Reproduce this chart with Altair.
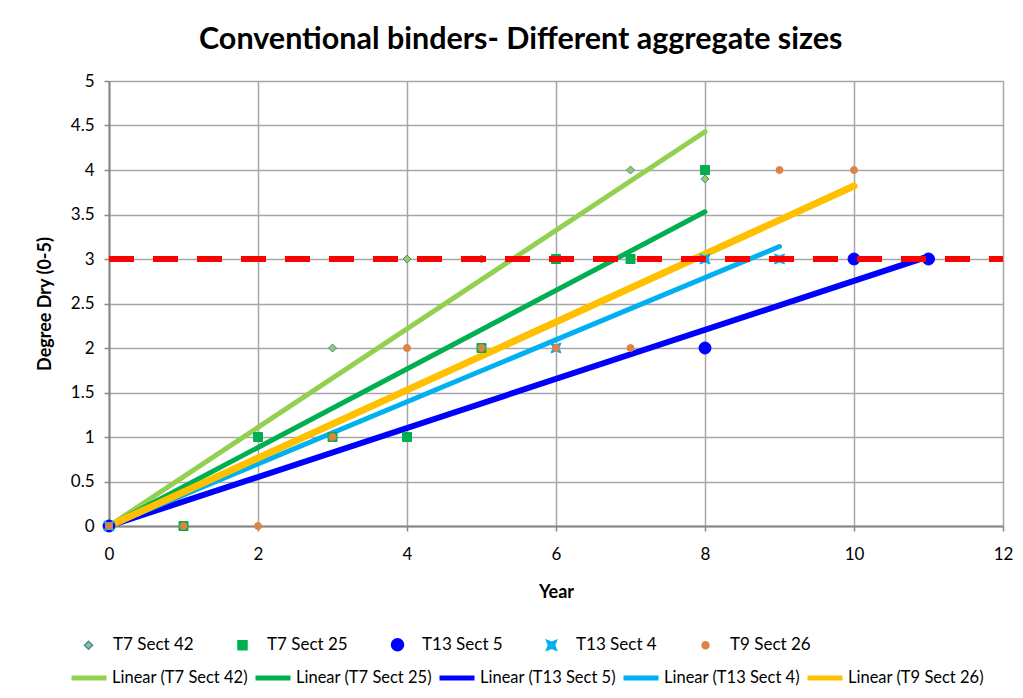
import altair as alt
import pandas as pd

# ---------------- data ----------------
series = ["T7 Sect 42", "T7 Sect 25", "T13 Sect 5", "T13 Sect 4", "T9 Sect 26"]

t7_42_year = [0, 3, 4, 5, 7, 8]
t7_42_val = [0, 2, 3, 3, 4, 3.9]
t7_25_year = [0, 1, 2, 3, 4, 5, 6, 7, 8]
t7_25_val = [0, 0, 1, 1, 1, 2, 3, 3, 4]
t13_5_year = [0, 8, 10, 11]
t13_5_val = [0, 2, 3, 3]
t13_4_year = [0, 6, 8, 9]
t13_4_val = [0, 2, 3, 3]
t9_26_year = [0, 1, 2, 3, 4, 5, 6, 7, 9, 10]
t9_26_val = [0, 0, 0, 1, 2, 2, 2, 2, 4, 4]

trend_names = ["Linear (T7 Sect 42)", "Linear (T7 Sect 25)", "Linear (T13 Sect 5)",
               "Linear (T13 Sect 4)", "Linear (T9 Sect 26)"]
trend_start_year = [0, 0, 0, 0, 0]
trend_start_val = [0, 0, 0, 0, 0]
trend_end_year = [8, 8, 11, 9, 10]
trend_end_val = [4.43, 3.53, 3.03, 3.14, 3.82]

threshold_val = [3]
threshold_from = [0]
threshold_to = [12]

x_ticks = [0, 2, 4, 6, 8, 10, 12]
y_ticks = [0, 0.5, 1, 1.5, 2, 2.5, 3, 3.5, 4, 4.5, 5]

# ---------------- styles ----------------
marker_fill = ["#92d050", "#00b050", "#0000ff", "#00b0f0", "#dd8445"]
marker_stroke = ["#4f81bd", "#00b050", "#0000ff", "#00b0f0", "#dd8445"]
marker_shape = ["diamond", "square", "circle",
                "M-1,-1L0,-0.6L1,-1L0.6,0L1,1L0,0.6L-1,1L-0.6,0Z", "circle"]
marker_size = [64, 81, 144, 100, 49]
trend_color = ["#92d050", "#00b050", "#0000ff", "#00b0f0", "#ffc000"]
trend_width = [5, 5, 6, 5, 7]
FONT = "Lato"

# ---------------- tables ----------------
rows = []
for name, xs, ys in zip(series,
                        [t7_42_year, t7_25_year, t13_5_year, t13_4_year, t9_26_year],
                        [t7_42_val, t7_25_val, t13_5_val, t13_4_val, t9_26_val]):
    for xv, yv in zip(xs, ys):
        rows.append({"series": name, "year": xv, "value": yv})
pts = pd.DataFrame(rows)

xscale = alt.Scale(domain=[0, 12], nice=False, zero=False)
yscale = alt.Scale(domain=[0, 5], nice=False)

xaxis = alt.Axis(values=x_ticks, title="Year", format="~g", grid=True, labelFlush=False,
                 gridColor="#a6a6a6", gridWidth=1.5, domainColor="#868686",
                 domainWidth=2, tickColor="#868686", tickSize=5, tickWidth=1.5,
                 labelFont=FONT, labelFontSize=17, labelColor="black", labelPadding=15,
                 titleFont=FONT, titleFontSize=18, titleFontWeight="bold",
                 titleColor="black", titlePadding=21)
yaxis = alt.Axis(values=y_ticks, title="Degree Dry (0-5)", format="~g", grid=True,
                 labelFlush=False,
                 gridColor="#a6a6a6", gridWidth=1.5, domainColor="#868686",
                 domainWidth=2, tickColor="#868686", tickSize=5, tickWidth=1.5,
                 labelFont=FONT, labelFontSize=17, labelColor="black", labelPadding=10,
                 titleFont=FONT, titleFontSize=18, titleFontWeight="bold",
                 titleColor="black", titlePadding=16)

# trend lines
line_layers = []
for i, name in enumerate(trend_names):
    df = pd.DataFrame({"trend": [name, name],
                       "year": [trend_start_year[i], trend_end_year[i]],
                       "value": [trend_start_val[i], trend_end_val[i]]})
    line_layers.append(
        alt.Chart(df).mark_line(strokeWidth=trend_width[i], strokeCap="round").encode(
            x=alt.X("year:Q", scale=xscale, axis=xaxis),
            y=alt.Y("value:Q", scale=yscale, axis=yaxis),
            color=alt.Color("trend:N",
                            scale=alt.Scale(domain=trend_names, range=trend_color),
                            legend=alt.Legend(orient="none", legendX=-40, legendY=577,
                                              direction="horizontal", columns=5,
                                              title=None, symbolType="stroke",
                                              symbolSize=1225, symbolStrokeWidth=5,
                                              labelFont=FONT, labelFontSize=16.5,
                                              labelFontWeight="normal",
                                              labelColor="black", labelOffset=3,
                                              columnPadding=-3)),
        )
    )
lines = alt.layer(*line_layers)

pt_legend = alt.Legend(orient="none", legendX=-29, legendY=555, direction="horizontal",
                       columns=5, title=None, labelFont=FONT, labelFontSize=17,
                       labelFontWeight="normal",
                       labelColor="black", labelOffset=16, columnPadding=40)

points = alt.Chart(pts).mark_point(filled=True, opacity=1, strokeWidth=1).encode(
    x=alt.X("year:Q", scale=xscale, axis=xaxis),
    y=alt.Y("value:Q", scale=yscale, axis=yaxis),
    color=alt.Color("series:N", scale=alt.Scale(domain=series, range=marker_fill),
                    legend=pt_legend),
    stroke=alt.Stroke("series:N", scale=alt.Scale(domain=series, range=marker_stroke),
                      legend=pt_legend),
    shape=alt.Shape("series:N", scale=alt.Scale(domain=series, range=marker_shape),
                    legend=pt_legend),
    size=alt.Size("series:N", scale=alt.Scale(type="ordinal", domain=series,
                                              range=marker_size),
                  legend=pt_legend),
)

thr = pd.DataFrame({"x0": threshold_from, "x1": threshold_to, "y": threshold_val})
rule = alt.Chart(thr).mark_rule(color="#ff0000", strokeWidth=6,
                                strokeDash=[25, 19]).encode(
    x=alt.X("x0:Q", scale=xscale, axis=xaxis),
    x2="x1:Q",
    y=alt.Y("y:Q", scale=yscale, axis=yaxis),
)

chart = alt.layer(lines, points, rule).resolve_scale(
    color="independent", stroke="independent", shape="independent", size="independent"
).properties(
    width=894, height=445,
    title=alt.TitleParams("Conventional binders- Different aggregate sizes",
                          font=FONT, fontSize=30.5, fontWeight="bold", color="black",
                          anchor="start", frame="group", dx=90, dy=36, offset=29,
                          baseline="alphabetic"),
    autosize=alt.AutoSizeParams(type="none"),
    padding={"left": 101, "top": 73, "right": 12, "bottom": 160},
).configure_view(
    fill="#f2f2f2", stroke="#868686", strokeWidth=2
).configure(background="white")

chart.save("out.html", embed_options={"renderer": "svg", "actions": False})
